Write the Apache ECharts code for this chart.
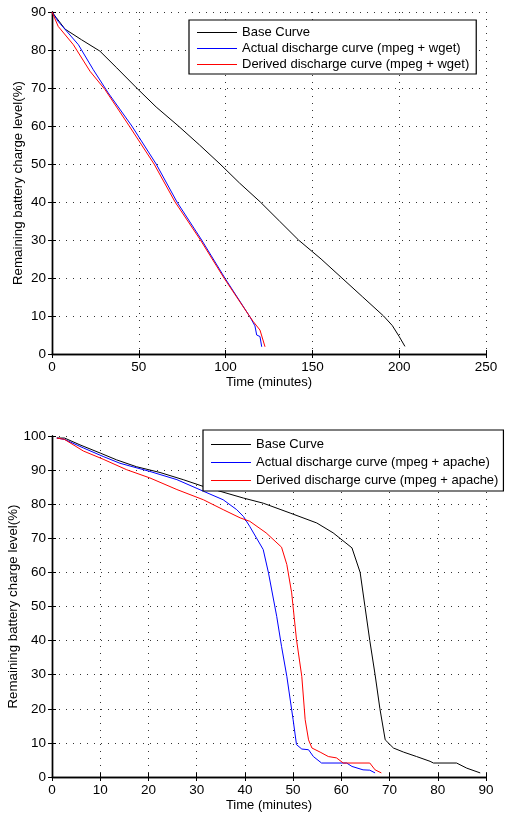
<!DOCTYPE html>
<html>
<head>
<meta charset="utf-8">
<script src="https://cdn.jsdelivr.net/npm/echarts@6/dist/echarts.min.js"></script>
<style>
  html, body { margin: 0; padding: 0; background: #fff; }
  #chart { width: 506px; height: 815px; }
</style>
</head>
<body>
<div id="chart"></div>
<script>
// top chart: mpeg + wget (time in minutes, charge in %)
const wgetBaseT = [0, 2.5, 7.5, 17, 27.6, 37.3, 48.8, 60, 72.8, 85, 96.8, 108, 120, 131, 142, 155, 167, 179, 191, 196, 200, 203.3];
const wgetBaseP = [90, 88.5, 85.5, 82.7, 79.7, 75.3, 70, 65, 60, 55, 50, 45, 40, 35, 30, 25, 20, 15, 10, 7.5, 4.6, 2];
const wgetActualT = [0, 3.6, 15.2, 23.8, 32.4, 46, 60, 72, 86.2, 99.7, 114, 116.9, 117.9, 119.8, 120.8];
const wgetActualP = [90, 87.5, 81.4, 74.8, 68.7, 60, 50, 40, 30, 19.9, 9.8, 7.4, 5, 4.6, 1.9];
const wgetDerivedT = [0, 3.6, 12.3, 21.9, 30.5, 44.5, 58.8, 70.9, 85.5, 99.2, 114, 116, 119.8, 122.7];
const wgetDerivedP = [90, 86.2, 81.4, 74.4, 69.6, 60, 50, 40, 30, 19.9, 9.8, 8.5, 6.3, 1.9];

// bottom chart: mpeg + apache
const apacheBaseT = [1, 2.6, 5.8, 10, 13.4, 17.5, 22.4, 27.2, 31.4, 39.7, 43.8, 49.4, 54.9, 58.3, 62.2, 63.9, 64.9, 65.9, 67, 68, 69.1, 70.8, 72.9, 75.6, 78.4, 79.1, 83.9, 86, 88.8];
const apacheBaseP = [99.4, 99.4, 97.4, 95, 93, 91, 89.3, 87.2, 85.2, 81.8, 80.3, 77.4, 74.5, 71.6, 67.2, 60, 50, 40, 30, 20, 10.9, 8.5, 7.3, 6, 4.6, 4.1, 4.1, 2.6, 1.2];
const apacheActualT = [1, 2.6, 6.5, 10.6, 14.1, 20.3, 25.9, 31.4, 35.5, 38.3, 39.7, 41, 43.8, 44.9, 46.6, 47.6, 48.7, 50, 50.7, 51.8, 53.2, 54.2, 55.9, 61.1, 62.2, 64.5, 65.9, 67];
const apacheActualP = [99.4, 99, 96.5, 94, 92, 89.6, 87.2, 83.8, 81.3, 78.4, 76.4, 73.5, 66.7, 59.8, 47.1, 38.3, 29.5, 16.8, 9.5, 8.2, 8, 6, 4.1, 4.1, 3.1, 2.1, 2, 1.2];
const apacheDerivedT = [1, 2.6, 6.5, 10.6, 15.5, 20.3, 25.9, 31.4, 35.5, 39, 41, 44.4, 47.6, 48.7, 49.7, 50.7, 51.8, 52.5, 53.2, 53.9, 55.6, 57.3, 59, 60.4, 65.9, 67, 68.3];
const apacheDerivedP = [99.4, 99, 95.6, 93.2, 90.1, 87.7, 84.3, 81.3, 78.4, 76, 75, 71.6, 67.4, 62.3, 54, 40.3, 29.5, 16.8, 10.9, 8.5, 7.3, 6, 5.6, 4.1, 4.1, 2.1, 1.2];

const seriesNames = [
  ['Base Curve', 'Actual discharge curve (mpeg + wget)', 'Derived discharge curve (mpeg + wget)'],
  ['Base Curve', 'Actual discharge curve (mpeg + apache)', 'Derived discharge curve (mpeg + apache)'],
];
const colors = ['#000000', '#0000ff', '#ff0000'];

const zip = (t, p) => t.map((v, i) => [v, p[i]]);

const font = 'Liberation Sans, Arial, Helvetica, sans-serif';
const grids = [
  { left: 52, top: 12, width: 434, height: 342, outerBoundsMode: 'none', containLabel: false },
  { left: 52, top: 436, width: 434, height: 341, outerBoundsMode: 'none', containLabel: false },
];
const xRanges = [{ max: 250, interval: 50 }, { max: 90, interval: 10 }];
const yRanges = [{ max: 90, interval: 10 }, { max: 100, interval: 10 }];
const yNameGaps = [27, 32];

const axisLine = { show: true, lineStyle: { color: '#000', width: 1.4 } };
const axisTick = { show: true, inside: true, length: 4, lineStyle: { color: '#000' } };
const splitLine = { show: true, lineStyle: { color: '#333', type: [1, 6], width: 1 } };
const axisLabel = { color: '#000', fontSize: 13.5, fontFamily: font };

const xAxis = [];
const yAxis = [];
grids.forEach((g, i) => {
  xAxis.push({
    type: 'value', gridIndex: i, position: 'bottom', min: 0, ...xRanges[i],
    name: 'Time (minutes)', nameLocation: 'middle', nameGap: 22,
    nameTextStyle: { color: '#000', fontSize: 13, fontFamily: font },
    axisLine, axisTick, splitLine, axisLabel: { ...axisLabel, margin: 6 },
  });
  xAxis.push({
    type: 'value', gridIndex: i, position: 'top', min: 0, ...xRanges[i],
    axisLine, axisTick, splitLine: { show: false }, axisLabel: { show: false },
  });
  yAxis.push({
    type: 'value', gridIndex: i, position: 'left', min: 0, ...yRanges[i],
    name: 'Remaining battery charge level(%)', nameLocation: 'middle',
    nameGap: yNameGaps[i], nameMoveOverlap: false,
    nameTextStyle: { color: '#000', fontSize: 13.3, fontFamily: font },
    axisLine, axisTick, splitLine, axisLabel: { ...axisLabel, margin: 6 },
  });
  yAxis.push({
    type: 'value', gridIndex: i, position: 'right', min: 0, ...yRanges[i],
    axisLine, axisTick, splitLine: { show: false }, axisLabel: { show: false },
  });
});

const chartData = [
  [zip(wgetBaseT, wgetBaseP), zip(wgetActualT, wgetActualP), zip(wgetDerivedT, wgetDerivedP)],
  [zip(apacheBaseT, apacheBaseP), zip(apacheActualT, apacheActualP), zip(apacheDerivedT, apacheDerivedP)],
];

const series = [];
chartData.forEach((group, gi) => {
  group.forEach((d, si) => {
    series.push({
      type: 'line',
      name: seriesNames[gi][si],
      xAxisIndex: gi * 2,
      yAxisIndex: gi * 2,
      data: d,
      showSymbol: false,
      symbol: 'none',
      lineStyle: { color: colors[si], width: 1 },
      itemStyle: { color: colors[si] },
      animation: false,
    });
  });
});

const legendBase = {
  orient: 'vertical',
  icon: 'rect',
  itemWidth: 40,
  itemHeight: 1.2,
  backgroundColor: '#fff',
  borderColor: '#000',
  borderWidth: 1.2,
  selectedMode: false,
  textStyle: { color: '#000', fontSize: 13, fontFamily: font },
  z: 10,
};
const legend = [
  { ...legendBase, data: seriesNames[0], left: 189, top: 20, itemGap: 3, padding: [6, 7, 3, 8] },
  { ...legendBase, data: seriesNames[1], left: 203, top: 430, itemGap: 5, padding: [8, 5, 4, 8] },
];

const chart = echarts.init(document.getElementById('chart'));
chart.setOption({
  animation: false,
  backgroundColor: '#fff',
  grid: grids,
  xAxis,
  yAxis,
  legend,
  series,
});
</script>
</body>
</html>
